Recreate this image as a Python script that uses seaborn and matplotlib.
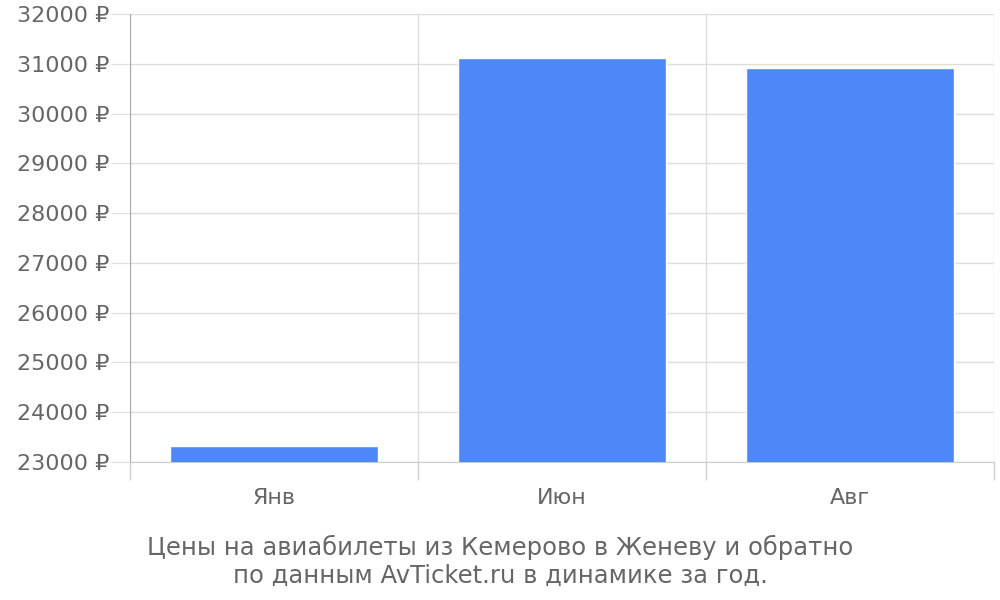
import matplotlib
matplotlib.use("Agg")
import matplotlib.pyplot as plt
import seaborn as sns
import pandas as pd
from matplotlib.ticker import FuncFormatter, FixedLocator

months = ["Янв", "Июн", "Авг"]
prices = [23320, 31120, 30920]
title = "Цены на авиабилеты из Кемерово в Женеву и обратно\nпо данным AvTicket.ru в динамике за год."

df = pd.DataFrame({"month": months, "price": prices})

sns.set_style("white")
plt.rcParams["font.family"] = ["DejaVu Sans"]

fig = plt.figure(figsize=(10, 6), dpi=100)
ax = fig.add_axes([0.13, 0.23, 0.864, 0.7467])

sns.barplot(data=df, x="month", y="price", color="#4d88f9", saturation=1,
            width=0.72, ax=ax, zorder=3)

ax.set_ylim(23000, 32000)
ax.set_xlim(-0.5, 2.5)
ax.set_yticks(range(23000, 32001, 1000))
ax.yaxis.set_major_formatter(FuncFormatter(lambda v, p: f"{v:.0f} ₽"))
ax.xaxis.set_minor_locator(FixedLocator([-0.5, 0.5, 1.5, 2.5]))

ax.grid(axis="y", color="#dddddd", linewidth=1, zorder=0)
ax.grid(axis="x", which="minor", color="#dddddd", linewidth=1, zorder=0)
ax.tick_params(axis="y", left=True, length=14, color="#dddddd", pad=1,
               labelsize=16, labelcolor="#666666")
ax.tick_params(axis="x", which="major", length=0, pad=19, labelsize=16,
               labelcolor="#666666")
ax.tick_params(axis="x", which="minor", bottom=True, length=13,
               color="#cccccc", width=1)

for s in ["top", "right"]:
    ax.spines[s].set_visible(False)
ax.spines["left"].set_color("#aaaaaa")
ax.spines["bottom"].set_color("#cccccc")

ax.set_xlabel("")
ax.set_ylabel("")
fig.text(0.5, 0.065, title, ha="center", va="center", fontsize=17.5,
         color="#666666", linespacing=1.2)

fig.savefig("out.png", dpi=100)
